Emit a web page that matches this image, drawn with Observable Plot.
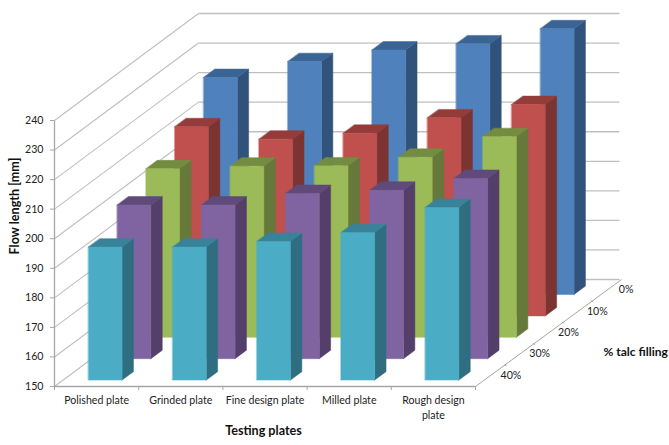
<!DOCTYPE html>
<html><head><meta charset="utf-8">
<style>html,body{margin:0;padding:0;background:#fff}svg{display:block}</style>
<script src="https://cdn.jsdelivr.net/npm/d3@7"></script>
<script src="https://cdn.jsdelivr.net/npm/@observablehq/plot@0.6"></script>
</head><body><script>
const plates = ["Polished plate","Grinded plate","Fine design plate","Milled plate","Rough design\nplate"];
const talc = ["0%","10%","20%","30%","40%"];
const talc0  = [223.4,228.8,232.7,234.8,239.9];
const talc10 = [214,209.8,211.8,217,221.5];
const talc20 = [207,207.9,208,210.9,217.9];
const talc30 = [202,202,205.9,207,211];
const talc40 = [195,195,196.9,199.9,208.4];
const seriesValues = [talc0,talc10,talc20,talc30,talc40];
const frontColors = ["#4f81bd","#c0504d","#9bbb59","#8064a2","#4bacc6"];
const topColors   = ["#3a6494","#943c3a","#748c42","#604a7a","#38829a"];
const sideColors  = ["#31527b","#7c3432","#65793a","#533f69","#2f6e80"];
const valueTicks = [150,160,170,180,190,200,210,220,230,240];

// oblique projection: category u, depth slot w (0 = front), value v
const DX = 0.342, DV = 7.24, N = 5;
const px = (u,w) => u + w*DX;
const py = (w,v) => v + w*DV;

const polys = [];
seriesValues.forEach((vals,s) => {
  const w0 = (N-1-s)+0.3, w1 = (N-1-s)+0.695;
  vals.forEach((v,i) => {
    const u0 = i+0.3, u1 = i+0.7, b = 150;
    const add = (id,fill,pts) => pts.forEach(([u,w,val]) =>
      polys.push({id:`${s}-${i}-${id}`,fill,x:px(u,w),y:py(w,val)}));
    add("side",sideColors[s],[[u1,w0,b],[u1,w1,b],[u1,w1,v],[u1,w0,v]]);
    add("top",topColors[s],[[u0,w0,v],[u1,w0,v],[u1,w1,v],[u0,w1,v]]);
    add("front",frontColors[s],[[u0,w0,b],[u1,w0,b],[u1,w0,v],[u0,w0,v]]);
  });
});

const gridColor = "#bfbfbf", axisColor = "#a6a6a6";
const chart = Plot.plot({
  width:669,height:445,marginLeft:54,marginRight:47,marginTop:13,marginBottom:59,
  x:{domain:[0,568/84.2],range:[54,622]},
  y:{domain:[150,150+90+N*DV],range:[386,13]},
  color:{type:"identity"},
  style:{fontFamily:"Lato, sans-serif",fontSize:"10.6px",color:"#222",background:"#fff"},
  marks:[
    Plot.link(valueTicks,{x1:0,y1:d=>d,x2:px(0,N),y2:d=>py(N,d),stroke:gridColor,strokeWidth:1.1}),
    Plot.link(valueTicks,{x1:px(0,N),y1:d=>py(N,d),x2:px(N,N),y2:d=>py(N,d),stroke:gridColor,strokeWidth:1.3}),
    Plot.link([0],{x1:N,y1:150,x2:px(N,N)+0.025,y2:py(N,150),stroke:axisColor,strokeWidth:1}),
    Plot.link([1,2,3,4],{x1:d=>px(N,d),y1:d=>py(d,150),x2:d=>px(N,d)+0.025,y2:d=>py(d,150)-0.2,stroke:axisColor}),
    Plot.link([0],{x1:0,y1:150,x2:0,y2:240,stroke:axisColor,strokeWidth:1.3}),
    Plot.link([0],{x1:0,y1:150,x2:N,y2:150,stroke:axisColor,strokeWidth:1.3}),
    Plot.line(polys,{x:"x",y:"y",z:"id",fill:"fill",stroke:"fill",strokeWidth:0.5,curve:"linear-closed"}),
    Plot.axisY({ticks:valueTicks,label:null,tickSize:4,tickPadding:7,stroke:axisColor,fill:"#222"}),
    Plot.axisX({ticks:[0,1,2,3,4,5],label:null,tickSize:4,stroke:axisColor,text:null}),
    Plot.text(plates,{x:(d,i)=>i+0.5,y:150,dy:7,lineAnchor:"top",lineHeight:1.38,fill:"#222"}),
    Plot.text(talc,{x:(d,i)=>px(N,N-1-i+0.5),y:(d,i)=>py(N-1-i+0.5,150),dx:21,dy:-0.5,fill:"#222"}),
    Plot.text(["Flow length [mm]"],{frameAnchor:"left",rotate:-90,dx:-40,dy:54.5,fontWeight:"bold",fontSize:12.6,fill:"#111"}),
    Plot.text(["Testing plates"],{frameAnchor:"bottom",dx:-75,dy:48,fontWeight:"bold",fontSize:12.6,fill:"#111"}),
    Plot.text(["% talc filling"],{frameAnchor:"right",textAnchor:"start",dx:-19,dy:152.5,fontWeight:"bold",fontSize:12,fill:"#111"})
  ]
});
document.body.appendChild(chart);
</script></body></html>
